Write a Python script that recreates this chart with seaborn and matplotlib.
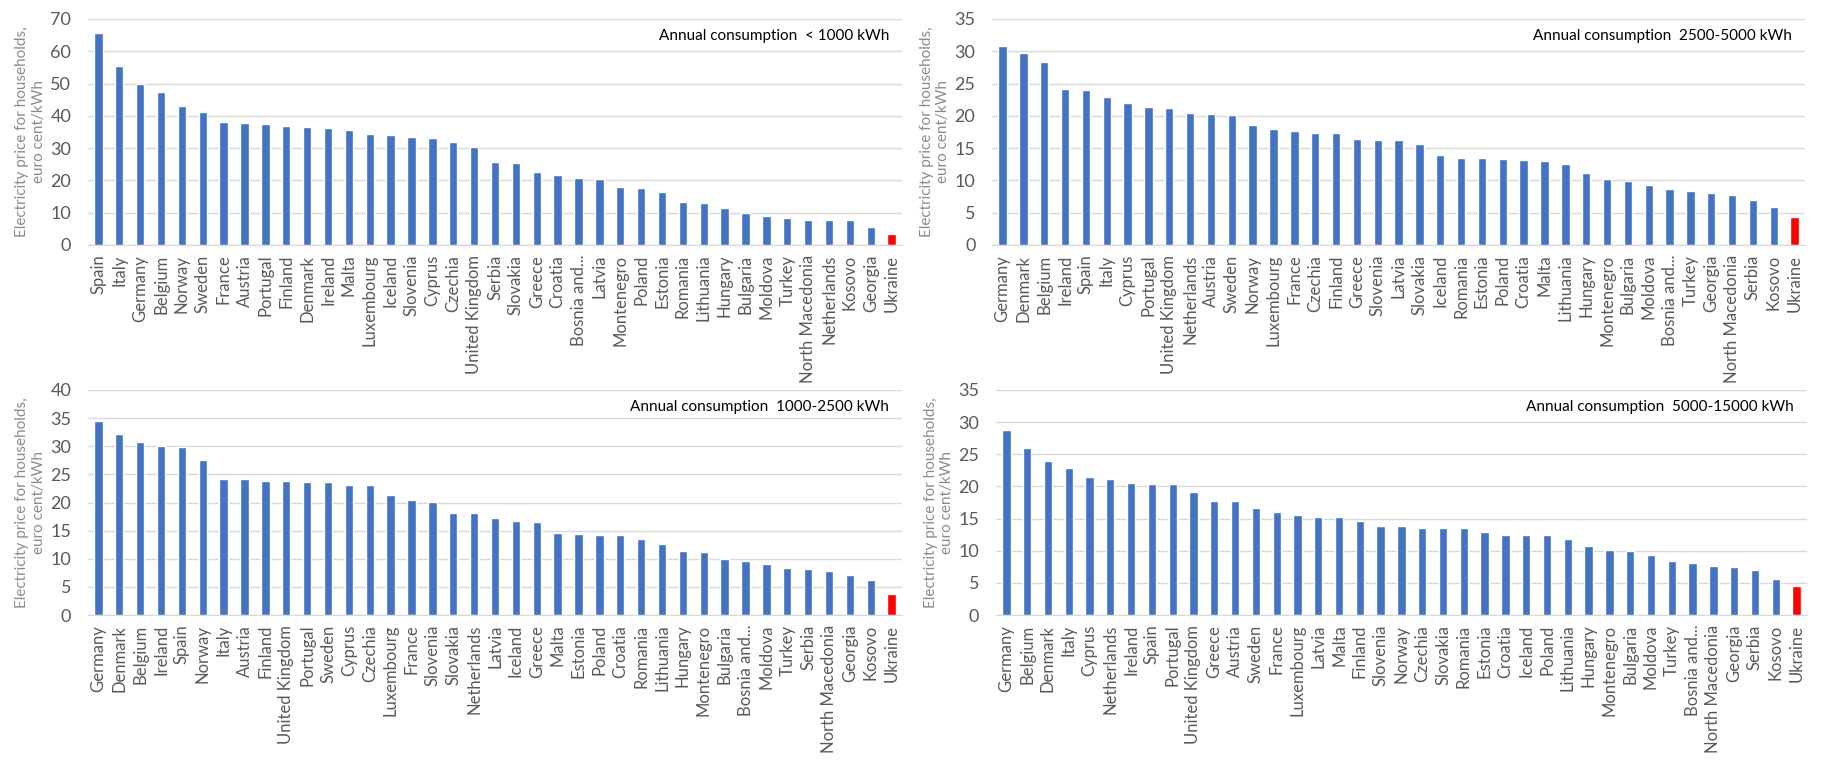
import pandas as pd
import matplotlib
matplotlib.use('Agg')
import matplotlib.pyplot as plt
import seaborn as sns

# < 1000 kWh
countries_1 = ['Spain', 'Italy', 'Germany', 'Belgium', 'Norway', 'Sweden', 'France', 'Austria',
               'Portugal', 'Finland', 'Denmark', 'Ireland', 'Malta', 'Luxembourg', 'Iceland',
               'Slovenia', 'Cyprus', 'Czechia', 'United Kingdom', 'Serbia', 'Slovakia', 'Greece',
               'Croatia', 'Bosnia and...', 'Latvia', 'Montenegro', 'Poland', 'Estonia', 'Romania',
               'Lithuania', 'Hungary', 'Bulgaria', 'Moldova', 'Turkey', 'North Macedonia',
               'Netherlands', 'Kosovo', 'Georgia', 'Ukraine']
prices_1 = [65.7, 55.4, 49.9, 47.4, 43.1, 41.2, 38.1, 37.8, 37.5, 36.9, 36.5, 36.2, 35.6, 34.4, 34.1,
            33.5, 33.1, 31.9, 30.4, 25.7, 25.4, 22.6, 21.7, 20.8, 20.4, 18.0, 17.7, 16.4, 13.3,
            13.0, 11.5, 9.9, 9.0, 8.4, 7.7, 7.7, 7.7, 5.6, 3.4]

# 2500-5000 kWh
countries_3 = ['Germany', 'Denmark', 'Belgium', 'Ireland', 'Spain', 'Italy', 'Cyprus', 'Portugal',
               'United Kingdom', 'Netherlands', 'Austria', 'Sweden', 'Norway', 'Luxembourg', 'France',
               'Czechia', 'Finland', 'Greece', 'Slovenia', 'Latvia', 'Slovakia', 'Iceland', 'Romania',
               'Estonia', 'Poland', 'Croatia', 'Malta', 'Lithuania', 'Hungary', 'Montenegro',
               'Bulgaria', 'Moldova', 'Bosnia and...', 'Turkey', 'Georgia', 'North Macedonia',
               'Serbia', 'Kosovo', 'Ukraine']
prices_3 = [30.8, 29.7, 28.3, 24.2, 24.0, 22.9, 22.0, 21.4, 21.2, 20.4, 20.3, 20.1, 18.6, 18.0, 17.7,
            17.3, 17.3, 16.4, 16.3, 16.3, 15.6, 13.9, 13.5, 13.5, 13.3, 13.2, 13.0, 12.5, 11.2,
            10.2, 9.9, 9.3, 8.7, 8.4, 8.1, 7.7, 7.0, 5.9, 4.3]

# 1000-2500 kWh
countries_2 = ['Germany', 'Denmark', 'Belgium', 'Ireland', 'Spain', 'Norway', 'Italy', 'Austria',
               'Finland', 'United Kingdom', 'Portugal', 'Sweden', 'Cyprus', 'Czechia', 'Luxembourg',
               'France', 'Slovenia', 'Slovakia', 'Netherlands', 'Latvia', 'Iceland', 'Greece', 'Malta',
               'Estonia', 'Poland', 'Croatia', 'Romania', 'Lithuania', 'Hungary', 'Montenegro',
               'Bulgaria', 'Bosnia and...', 'Moldova', 'Turkey', 'Serbia', 'North Macedonia',
               'Georgia', 'Kosovo', 'Ukraine']
prices_2 = [34.5, 32.2, 30.8, 30.0, 29.9, 27.6, 24.2, 24.2, 23.8, 23.8, 23.6, 23.6, 23.1, 23.1, 21.3,
            20.4, 20.1, 18.1, 18.1, 17.2, 16.7, 16.5, 14.6, 14.4, 14.2, 14.2, 13.5, 12.6, 11.4,
            11.2, 10.0, 9.6, 9.1, 8.4, 8.2, 7.8, 7.1, 6.2, 3.7]

# 5000-15000 kWh
countries_4 = ['Germany', 'Belgium', 'Denmark', 'Italy', 'Cyprus', 'Netherlands', 'Ireland', 'Spain',
               'Portugal', 'United Kingdom', 'Greece', 'Austria', 'Sweden', 'France', 'Luxembourg',
               'Latvia', 'Malta', 'Finland', 'Slovenia', 'Norway', 'Czechia', 'Slovakia', 'Romania',
               'Estonia', 'Croatia', 'Iceland', 'Poland', 'Lithuania', 'Hungary', 'Montenegro',
               'Bulgaria', 'Moldova', 'Turkey', 'Bosnia and...', 'North Macedonia', 'Georgia',
               'Serbia', 'Kosovo', 'Ukraine']
prices_4 = [28.7, 25.9, 23.9, 22.8, 21.4, 21.1, 20.6, 20.4, 20.3, 19.1, 17.8, 17.8, 16.7, 16.0, 15.5,
            15.3, 15.3, 14.7, 13.9, 13.8, 13.6, 13.6, 13.5, 12.9, 12.5, 12.5, 12.4, 11.9, 10.8,
            10.1, 9.9, 9.3, 8.4, 8.1, 7.6, 7.4, 7.0, 5.6, 4.5]

titles = ['Annual consumption  < 1000 kWh', 'Annual consumption  2500-5000 kWh',
          'Annual consumption  1000-2500 kWh', 'Annual consumption  5000-15000 kWh']
yticks = [range(0, 71, 10), range(0, 36, 5), range(0, 41, 5), range(0, 36, 5)]

sns.set_style('white')
plt.rcParams['font.family'] = ['Lato', 'DejaVu Sans']

BLUE = '#4472C4'
RED = '#FF0000'
TICK = '#595959'

fig = plt.figure(figsize=(18.44, 7.62), dpi=100)
boxes = [[0.0477, 0.6785, 0.4415, 0.2966],
         [0.5380, 0.6785, 0.4409, 0.2966],
         [0.0477, 0.1929, 0.4415, 0.2953],
         [0.5401, 0.1929, 0.4398, 0.2953]]
panels = [(countries_1, prices_1), (countries_3, prices_3),
          (countries_2, prices_2), (countries_4, prices_4)]

for box, (names, vals), title, yt in zip(boxes, panels, titles, yticks):
    ax = fig.add_axes(box)
    df = pd.DataFrame({'country': names, 'price': vals})
    colors = [RED if c == 'Ukraine' else BLUE for c in names]
    sns.barplot(data=df, x='country', y='price', hue='country', order=names, hue_order=names,
                palette=colors, width=0.4, legend=False, saturation=1, ax=ax)
    ax.set_xlim(-0.5, len(names) - 0.5)
    ax.set_ylim(0, max(yt))
    ax.set_yticks(list(yt))
    ax.yaxis.grid(True, color='#D9D9D9', linewidth=1)
    ax.set_axisbelow(True)
    for s in ['top', 'right', 'left']:
        ax.spines[s].set_visible(False)
    ax.spines['bottom'].set_color('#D9D9D9')
    ax.tick_params(axis='both', length=0, colors=TICK)
    ax.tick_params(axis='x', rotation=90, pad=7, labelsize=12)
    ax.tick_params(axis='y', pad=12, labelsize=13)
    ax.set_xlabel('')
    ax.set_ylabel('Electricity price for households,\neuro cent/kWh', color='#8C8C8C', fontsize=11)
    ax.yaxis.set_label_coords(-0.052, 0.5)
    ax.text(0.984, 0.925, title, transform=ax.transAxes, ha='right', va='center',
            fontsize=11, color='black')

fig.savefig('out.png', dpi=100)
